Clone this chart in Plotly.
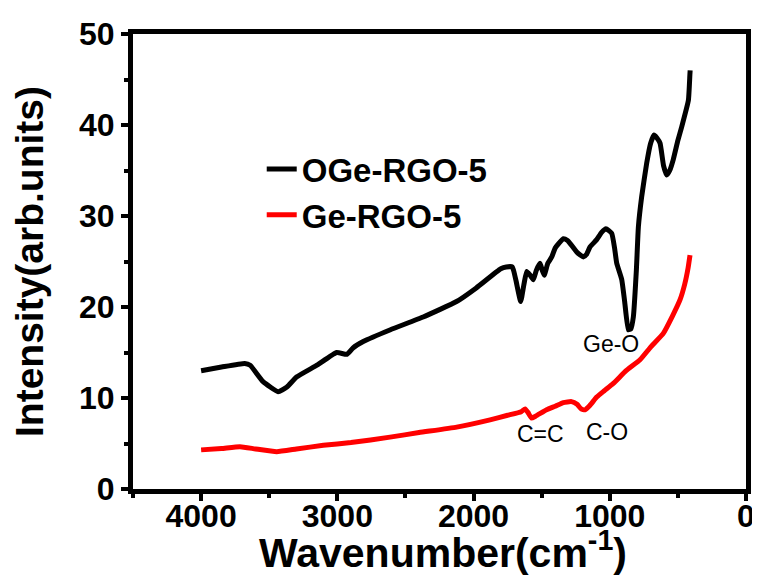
import plotly.graph_objects as go

# OGe-RGO-5 (black)
wn_oge = [4000, 3850, 3680, 3640, 3545, 3435, 3370, 3300, 3150, 3005, 2930, 2885, 2810,
          2610, 2370, 2125, 1980, 1800, 1760, 1715, 1690, 1654, 1630, 1610, 1585, 1561,
          1540, 1512, 1495, 1481, 1455, 1426, 1400, 1341, 1310, 1292, 1240, 1194, 1170,
          1145, 1096, 1060, 1028, 986, 965, 949, 912, 890, 864, 845, 827, 805, 790, 766,
          729, 700, 675, 655, 631, 605, 582, 560, 534, 500, 472, 423, 412, 410]
int_oge = [13.0, 13.4, 13.8, 13.6, 11.8, 10.7, 11.2, 12.3, 13.6, 15.0, 14.8, 15.5, 16.2,
           17.5, 18.9, 20.6, 22.1, 24.2, 24.4, 24.4, 23.0, 20.6, 22.5, 23.9, 23.5, 23.0,
           24.0, 24.8, 24.0, 23.5, 24.8, 25.5, 26.5, 27.5, 27.3, 27.0, 26.0, 25.5, 25.8,
           26.6, 27.4, 28.2, 28.6, 28.1, 26.5, 24.8, 23.0, 20.5, 17.5, 17.6, 18.9, 24.0,
           28.8, 32.1, 35.8, 38.0, 38.9, 38.6, 38.0, 35.5, 34.5, 35.0, 36.2, 38.3, 39.8,
           42.7, 45.5, 46.0]

# Ge-RGO-5 (red)
wn_ge = [4000, 3850, 3715, 3600, 3445, 3300, 3103, 2900, 2613, 2400, 2124, 1879, 1750,
         1650, 1622, 1600, 1575, 1545, 1464, 1400, 1341, 1281, 1240, 1210, 1182, 1145,
         1096, 1040, 974, 880, 778, 700, 607, 540, 484, 450, 425, 411]
int_ge = [4.3, 4.45, 4.65, 4.4, 4.1, 4.4, 4.8, 5.1, 5.7, 6.2, 6.8, 7.6, 8.1,
          8.5, 8.8, 8.4, 7.8, 8.0, 8.7, 9.1, 9.5, 9.6, 9.3, 8.8, 8.7, 9.2,
          10.1, 10.8, 11.6, 13.0, 14.2, 15.6, 17.1, 19.0, 20.8, 22.5, 24.3, 25.7]

x_ticks = [4000, 3000, 2000, 1000, 0]
y_ticks = [0, 10, 20, 30, 40, 50]

peak_labels = ["Ge-O", "C=C", "C-O"]
peak_x = [991, 1505, 1020]
peak_y = [15.9, 6.0, 6.3]

x_title = "Wavenumber(cm<sup>-1</sup>)"
y_title = "Intensity(arb.units)"

FONT = "Liberation Sans, Arial, sans-serif"

fig = go.Figure()
fig.add_trace(go.Scatter(x=wn_oge, y=int_oge, mode="lines", name="OGe-RGO-5",
                         line=dict(color="black", width=5, shape="spline", smoothing=0.4)))
fig.add_trace(go.Scatter(x=wn_ge, y=int_ge, mode="lines", name="Ge-RGO-5",
                         line=dict(color="#ff0000", width=5, shape="spline", smoothing=0.4)))

for t, xv, yv in zip(peak_labels, peak_x, peak_y):
    fig.add_annotation(x=xv, y=yv, text=t, showarrow=False, xref="x", yref="y",
                       font=dict(family=FONT, size=23, color="black"))

# x-axis title placed as paper annotation so it can sit close to the tick labels
fig.add_annotation(x=0.505, y=-0.134, xref="paper", yref="paper", text=x_title,
                   showarrow=False, xanchor="center", yanchor="middle",
                   font=dict(family=FONT, size=41, color="black", weight="bold"))

axis_common = dict(showline=True, linecolor="black", linewidth=5, mirror=True,
                   ticks="outside", ticklen=7, tickwidth=4, tickcolor="black",
                   showgrid=False, zeroline=False, automargin=False,
                   tickfont=dict(family=FONT, size=32, color="black", weight="bold"))

fig.update_xaxes(range=[4500, 0], tickvals=x_ticks, ticklabelstandoff=-12,
                 minor=dict(dtick=500, ticklen=4, tickwidth=4, tickcolor="black", ticks="outside"),
                 **axis_common)
fig.update_yaxes(range=[0, 50], tickvals=y_ticks,
                 minor=dict(dtick=5, ticklen=4, tickwidth=4, tickcolor="black", ticks="outside"),
                 title=dict(text=y_title,
                            font=dict(family=FONT, size=39, color="black", weight="bold"),
                            standoff=42),
                 **axis_common)

fig.update_layout(
    width=752, height=573,
    margin=dict(l=125, r=14, t=26, b=92),
    plot_bgcolor="white", paper_bgcolor="white",
    legend=dict(x=0.21, y=0.765, xanchor="left", yanchor="top",
                bgcolor="rgba(0,0,0,0)", borderwidth=0,
                font=dict(family=FONT, size=33, color="black", weight="bold"),
                itemwidth=30, tracegroupgap=0),
)

fig.write_html("out.html")
